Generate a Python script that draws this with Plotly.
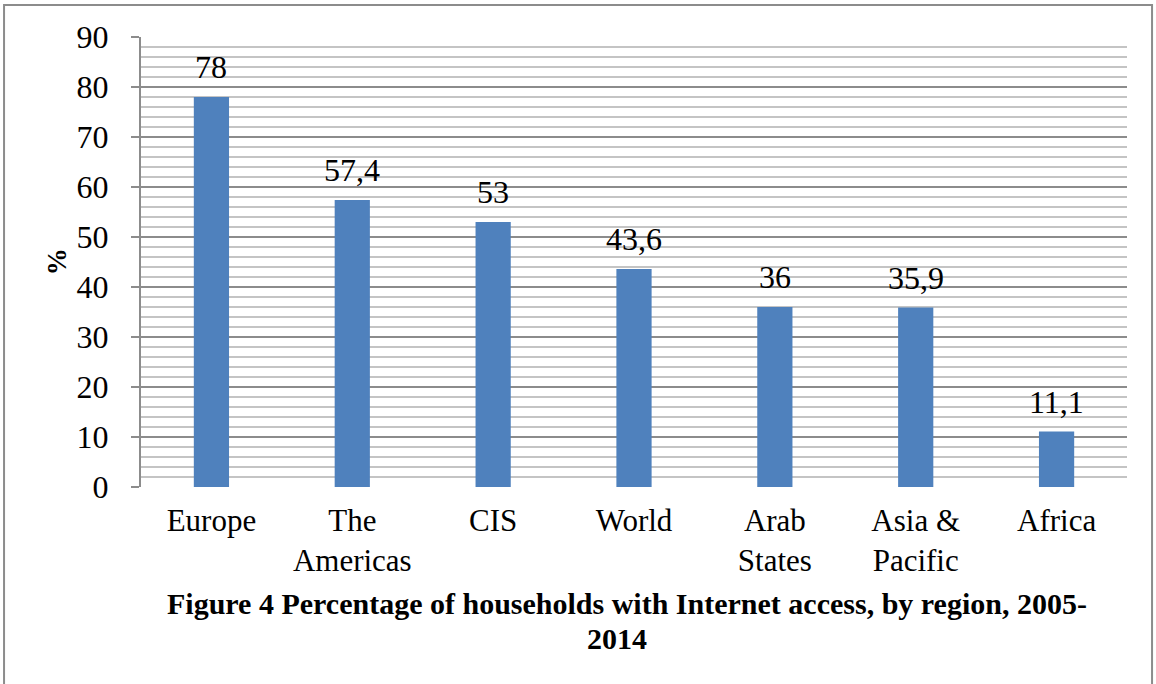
import plotly.graph_objects as go

# Household internet access by region (%)
regions = ["Europe", "The<br>Americas", "CIS", "World", "Arab<br>States", "Asia &amp;<br>Pacific", "Africa"]
values = [78, 57.4, 53, 43.6, 36, 35.9, 11.1]
value_labels = [f"{v:g}".replace(".", ",") for v in values]
y_ticks = [0, 10, 20, 30, 40, 50, 60, 70, 80, 90]
caption_lines = [
    "Figure 4 Percentage of households with Internet access, by region, 2005-",
    "2014",
]

FONT = "Liberation Serif, Times New Roman, serif"

fig = go.Figure(
    go.Bar(
        x=regions,
        y=values,
        width=0.25,
        marker=dict(color="#4F81BD", line=dict(width=0)),
        hoverinfo="skip",
    )
)

# value labels above each bar
for r, v, lab in zip(regions, values, value_labels):
    fig.add_annotation(
        x=r, y=v, text=lab, showarrow=False, yanchor="bottom",
        yshift=10, font=dict(family=FONT, size=32, color="black"),
    )

# caption under the plot, one annotation per line
for line, (cx, cy) in zip(caption_lines, [(0.493, -0.2578), (0.483, -0.3356)]):
    fig.add_annotation(
        xref="paper", yref="paper", x=cx, y=cy, xanchor="center", yanchor="middle",
        text=f"<b>{line}</b>", showarrow=False,
        font=dict(family=FONT, size=30, color="black"),
    )

# y-axis title
fig.add_annotation(
    xref="paper", yref="paper", x=-0.085, y=0.5, xanchor="center", yanchor="middle",
    text="<b>%</b>", textangle=-90, showarrow=False,
    font=dict(family=FONT, size=27, color="black"),
)

# outer frame
fig.add_shape(
    type="rect", xref="paper", yref="paper",
    x0=-0.1389, x1=1.0254, y0=-0.6, y1=1.0711,
    line=dict(color="#8C8C8C", width=2), fillcolor="rgba(0,0,0,0)", layer="below",
)

fig.update_layout(
    width=1156, height=684,
    margin=dict(l=141, r=29, t=37, b=197),
    paper_bgcolor="white", plot_bgcolor="white",
    showlegend=False, bargap=0.75,
    font=dict(family=FONT, size=32, color="black"),
    xaxis=dict(
        showgrid=False, showline=False, ticks="",
        tickfont=dict(family=FONT, size=31, color="black"),
        ticklabelstandoff=12,
    ),
    yaxis=dict(
        range=[0, 90], tickvals=y_ticks, ticks="outside", ticklen=8,
        tickcolor="#8C8C8C", tickwidth=2,
        showline=True, linecolor="#8C8C8C", linewidth=2,
        showgrid=True, gridcolor="#8C8C8C", gridwidth=2,
        minor=dict(dtick=2, showgrid=True, gridcolor="#C4C4C4", gridwidth=2),
        zeroline=False,
        tickfont=dict(family=FONT, size=32, color="black"),
        ticklabelstandoff=16,
    ),
)

fig.write_html("out.html")
